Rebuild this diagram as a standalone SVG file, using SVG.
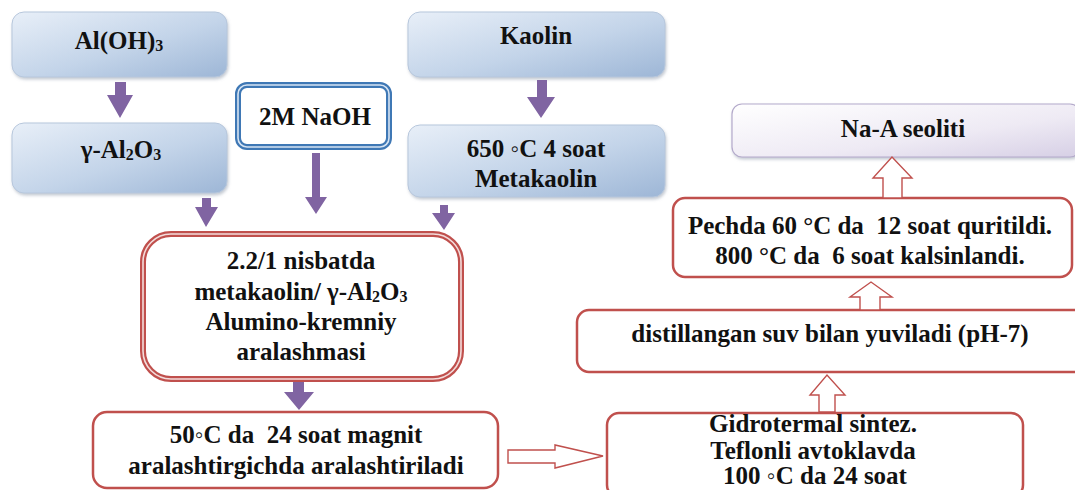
<svg xmlns="http://www.w3.org/2000/svg" width="1075" height="490" viewBox="0 0 1075 490">
<defs>
<linearGradient id="blueG" x1="0" y1="0" x2="1" y2="1">
<stop offset="0" stop-color="#e8eff8"/>
<stop offset="0.55" stop-color="#c3d4e9"/>
<stop offset="1" stop-color="#9db6d6"/>
</linearGradient>
<linearGradient id="lavG" x1="0" y1="0" x2="1" y2="1">
<stop offset="0" stop-color="#ffffff"/>
<stop offset="0.6" stop-color="#eeeaf4"/>
<stop offset="1" stop-color="#d6cfe5"/>
</linearGradient>
<filter id="sh" x="-10%" y="-10%" width="120%" height="130%">
<feDropShadow dx="1" dy="2" stdDeviation="1.5" flood-color="#8a96a8" flood-opacity="0.5"/>
</filter>
</defs>
<style>
text{font-family:"Liberation Serif","Times New Roman",serif;font-weight:bold;font-size:25px;fill:#111;text-anchor:middle;white-space:pre}
.blue{fill:url(#blueG);stroke:#b7c7dc;stroke-width:1;filter:url(#sh)}
.red{fill:#fff;stroke:#c0504d;stroke-width:2.5}
.pa{fill:#8064a2;stroke:none}
.ha{fill:#fff;stroke:#c0504d;stroke-width:1.4;stroke-linejoin:miter}
.sub{font-size:16px}
</style>

<g id="n-aloh3">
<rect class="blue" x="12" y="12" width="215" height="65" rx="12"/>
<text x="119" y="49">Al(OH)<tspan class="sub" dy="2">3</tspan></text>
</g>
<g id="n-gal2o3">
<rect class="blue" x="12" y="123" width="215" height="70" rx="12"/>
<text x="121" y="158">γ-Al<tspan class="sub" dy="2">2</tspan><tspan dy="-2">O</tspan><tspan class="sub" dy="2">3</tspan></text>
</g>
<g id="n-naoh">
<rect x="238" y="85" width="151" height="62" rx="9" fill="#fff" stroke="#3f78b5" stroke-width="6"/>
<rect x="238" y="85" width="151" height="62" rx="9" fill="none" stroke="#d6e4f3" stroke-width="1.6"/>
<text x="315" y="125">2M NaOH</text>
</g>
<g id="n-kaolin">
<rect class="blue" x="408" y="12" width="257" height="65" rx="12"/>
<text x="536" y="44">Kaolin</text>
</g>
<g id="n-metakaolin">
<rect class="blue" x="408" y="125" width="257" height="72" rx="12"/>
<text x="536" y="157">650 ◦C 4 soat</text>
<text x="536" y="187">Metakaolin</text>
</g>
<g id="n-mix">
<rect x="143" y="234" width="318" height="145" rx="28" fill="#fff" stroke="#c0504d" stroke-width="6"/>
<rect x="143" y="234" width="318" height="145" rx="28" fill="none" stroke="#f3dcdb" stroke-width="1.6"/>
<text x="301" y="269">2.2/1 nisbatda</text>
<text x="301" y="300">metakaolin/ γ-Al<tspan class="sub" dy="2">2</tspan><tspan dy="-2">O</tspan><tspan class="sub" dy="2">3</tspan></text>
<text x="301" y="330">Alumino-kremniy</text>
<text x="301" y="360">aralashmasi</text>
</g>
<g id="n-magnit">
<rect class="red" x="93" y="412" width="405" height="76" rx="14" stroke-width="3"/>
<text x="296" y="443">50◦C da  24 soat magnit</text>
<text x="296" y="474">aralashtirgichda aralashtiriladi</text>
</g>
<g id="n-gidro">
<rect class="red" x="607" y="413" width="416" height="84" rx="12"/>
<text x="813" y="432">Gidrotermal sintez.</text>
<text x="813" y="459">Teflonli avtoklavda</text>
<text x="815" y="484">100 ◦C da 24 soat</text>
</g>
<g id="n-distil">
<rect class="red" x="577" y="310" width="510" height="62" rx="12"/>
<text x="830" y="342">distillangan suv bilan yuviladi (pH-7)</text>
</g>
<g id="n-pechda">
<rect class="red" x="673" y="198" width="399" height="79" rx="12" stroke-width="3"/>
<text x="870" y="234">Pechda 60 °C da  12 soat quritildi.</text>
<text x="870" y="264">800 °C da  6 soat kalsinlandi.</text>
</g>
<g id="n-naa">
<rect x="732" y="104" width="348" height="53" rx="10" fill="url(#lavG)" stroke="#b4aacb" stroke-width="1.2" filter="url(#sh)"/>
<text x="903" y="137">Na-A seoliti</text>
</g>

<g id="connectors">
<polygon class="pa" points="115,82 126,82 126,95 133,95 120,118 107,95 115,95"/>
<polygon class="pa" points="537,80 547,80 547,97 555,97 541,118 527,97 537,97"/>
<polygon class="pa" points="202,198 211,198 211,207 218,207 206,227 195,207 202,207"/>
<polygon class="pa" points="312,153 320,153 320,197 327,197 316,214 305,197 312,197"/>
<polygon class="pa" points="440,205 448,205 448,213 455,213 444,230 432,213 440,213"/>
<polygon class="pa" points="293,382 304,382 304,392 314,392 299,410 284,392 293,392"/>
<polygon class="ha" points="508,450 555,450 555,445 603,456 555,468 555,463 508,463"/>
<polygon class="ha" points="819,412 819,395 810,395 827,375 845,395 835,395 835,412"/>
<polygon class="ha" points="860,310 860,297 850,297 871,282 892,297 880,297 880,310"/>
<polygon class="ha" points="883,198 883,178 873,178 892,157 912,178 902,178 902,198"/>
</g>
</svg>
